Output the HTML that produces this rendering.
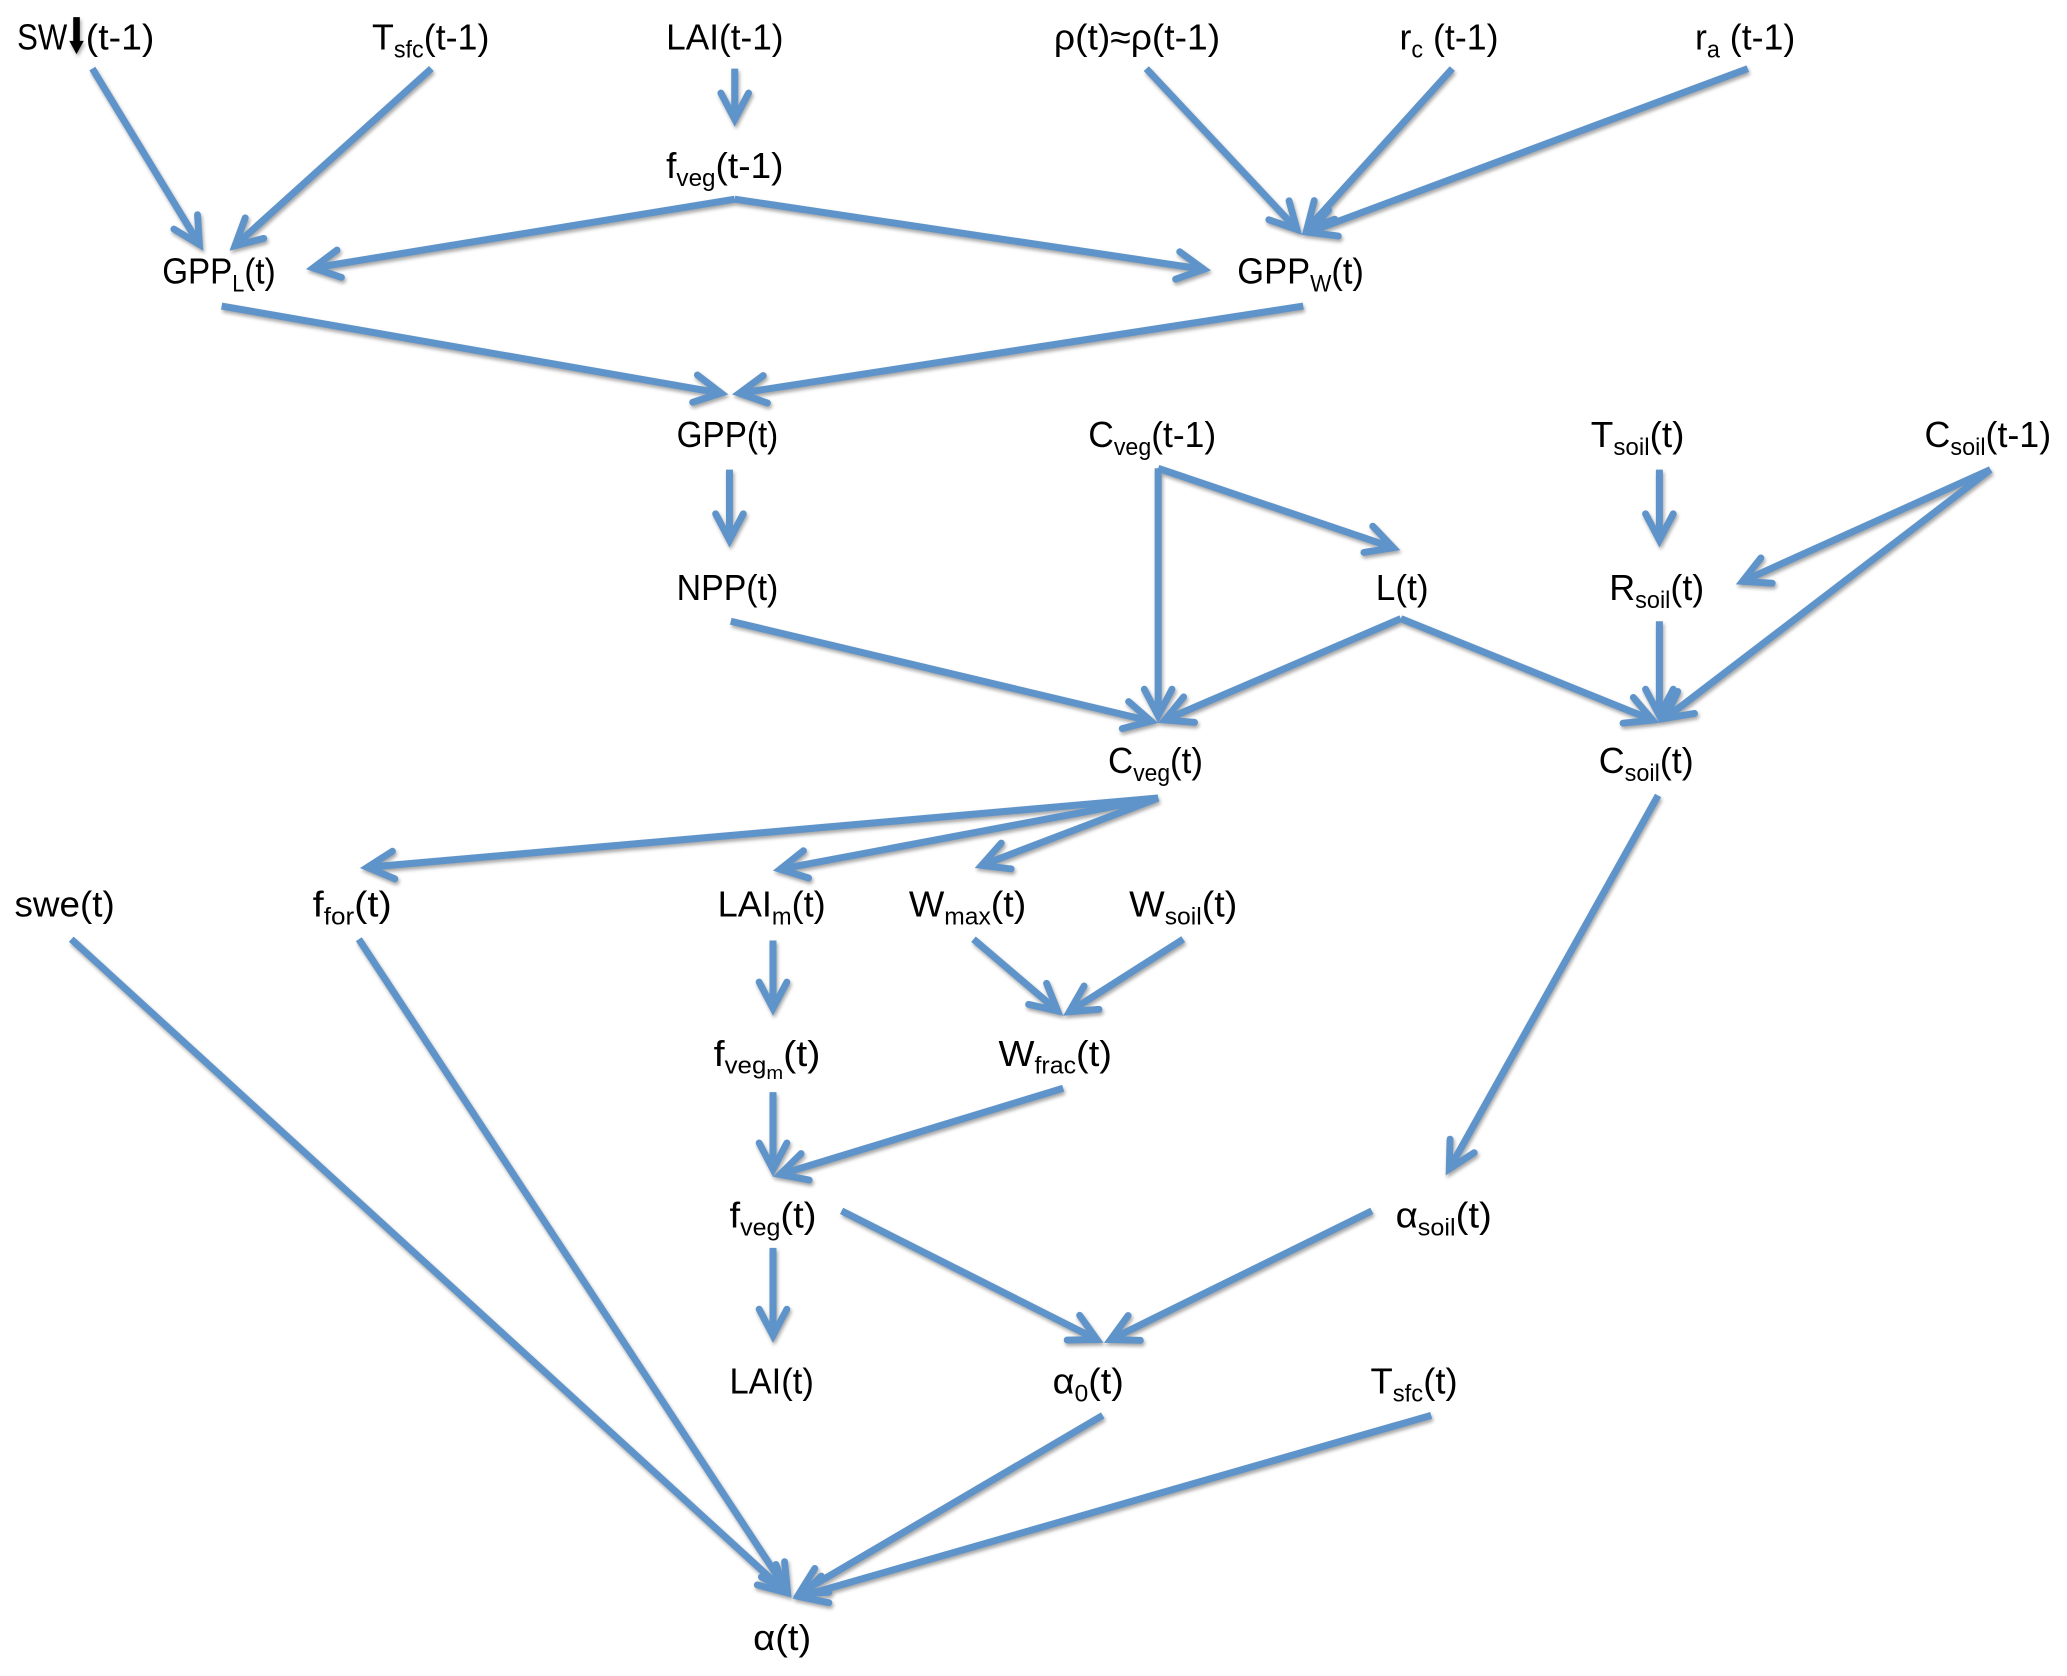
<!DOCTYPE html>
<html>
<head>
<meta charset="utf-8">
<style>
html,body{margin:0;padding:0;background:#fff;}
svg{display:block;}
text{font-family:"Liberation Sans",sans-serif;font-size:27.5px;fill:#000;}
tspan.s{font-size:18px;}
.a line{stroke:#5f94ca;stroke-width:5.3;stroke-dasharray:0 5 4000;marker-start:url(#h);}
.a{filter:drop-shadow(1.5px 2px 1.5px rgba(0,0,0,.35));}
</style>
</head>
<body>
<svg xmlns="http://www.w3.org/2000/svg" width="2067" height="1676" viewBox="0 0 1567 1270.6">
<defs>
<marker id="h" markerUnits="userSpaceOnUse" markerWidth="60" markerHeight="60" refX="40" refY="30" orient="auto-start-reverse" overflow="visible">
<path d="M14.5,19.5 L34.5,30 L14.5,40.5" fill="none" stroke="#5f94ca" stroke-width="5.2" stroke-linecap="round" stroke-linejoin="miter"/>
</marker>
</defs>
<g class="a">
<line x2="70" y2="52" x1="154" y1="190"/>
<line x2="327" y2="52" x1="174" y1="190"/>
<line x2="557" y2="52" x1="557" y1="96"/>
<line x2="557" y2="151" x1="232" y1="204"/>
<line x2="557" y2="151" x1="918" y1="205"/>
<line x2="869" y2="52" x1="987" y1="178"/>
<line x2="1101" y2="52" x1="987" y1="178"/>
<line x2="1325" y2="52" x1="987" y1="178"/>
<line x2="168" y2="232" x1="552" y1="299"/>
<line x2="988" y2="232" x1="555" y1="299"/>
<line x2="553" y2="356" x1="553" y1="415"/>
<line x2="878" y2="355" x1="878" y1="548"/>
<line x2="878" y2="355" x1="1061.5" y1="417"/>
<line x2="1258" y2="356" x1="1258" y1="415"/>
<line x2="1509" y2="356" x1="1316" y1="443"/>
<line x2="1509" y2="356" x1="1258" y1="548"/>
<line x2="554" y2="471" x1="878" y1="548"/>
<line x2="1062" y2="469" x1="878" y1="548"/>
<line x2="1062" y2="469" x1="1258" y1="548"/>
<line x2="1258" y2="471" x1="1258" y1="548"/>
<line x2="878" y2="605" x1="273" y1="658"/>
<line x2="878" y2="605" x1="586" y1="660"/>
<line x2="878" y2="605" x1="739" y1="658"/>
<line x2="1257" y2="603" x1="1096" y1="891"/>
<line x2="738" y2="712" x1="806" y1="770"/>
<line x2="897" y2="712" x1="806" y1="770"/>
<line x2="586" y2="713" x1="586" y1="770"/>
<line x2="54" y2="712" x1="600" y1="1211"/>
<line x2="272" y2="712" x1="600" y1="1211"/>
<line x2="836" y2="1073" x1="601" y1="1211"/>
<line x2="1085" y2="1073" x1="601" y1="1212"/>
<line x2="586" y2="828" x1="586" y1="892"/>
<line x2="806" y2="825" x1="586" y1="892"/>
<line x2="586" y2="946" x1="586" y1="1018"/>
<line x2="638" y2="918" x1="836.5" y1="1018"/>
<line x2="1040" y2="918" x1="837" y1="1018"/>
</g>
<polygon points="55.5,13 60.5,13 60.5,31 63.5,31 58,41 52.5,31 55.5,31" fill="#000" style="filter:drop-shadow(1px 2px 1.5px rgba(0,0,0,.35))"/>
<g>
<text x="13" y="37.5" textLength="38" lengthAdjust="spacingAndGlyphs">SW</text>
<text x="65" y="37.5" textLength="52" lengthAdjust="spacingAndGlyphs">(t-1)</text>
<text x="282" y="37.5" textLength="89" lengthAdjust="spacingAndGlyphs">T<tspan class="s" dy="6">sfc</tspan><tspan dy="-6">(t-1)</tspan></text>
<text x="505" y="37.5" textLength="89" lengthAdjust="spacingAndGlyphs">LAI(t-1)</text>
<text x="799" y="37.5" textLength="126" lengthAdjust="spacingAndGlyphs">ρ(t)≈ρ(t-1)</text>
<text x="1061" y="37.5" textLength="75" lengthAdjust="spacingAndGlyphs">r<tspan class="s" dy="6">c</tspan><tspan dy="-6"> (t-1)</tspan></text>
<text x="1285" y="37.5" textLength="76" lengthAdjust="spacingAndGlyphs">r<tspan class="s" dy="6">a</tspan><tspan dy="-6"> (t-1)</tspan></text>
<text x="505" y="135" textLength="89" lengthAdjust="spacingAndGlyphs">f<tspan class="s" dy="6">veg</tspan><tspan dy="-6">(t-1)</tspan></text>
<text x="123" y="215" textLength="86" lengthAdjust="spacingAndGlyphs">GPP<tspan class="s" dy="6">L</tspan><tspan dy="-6">(t)</tspan></text>
<text x="938" y="215" textLength="96" lengthAdjust="spacingAndGlyphs">GPP<tspan class="s" dy="6">W</tspan><tspan dy="-6">(t)</tspan></text>
<text x="513" y="339" textLength="77" lengthAdjust="spacingAndGlyphs">GPP(t)</text>
<text x="825" y="339" textLength="97" lengthAdjust="spacingAndGlyphs">C<tspan class="s" dy="6">veg</tspan><tspan dy="-6">(t-1)</tspan></text>
<text x="1206" y="339" textLength="71" lengthAdjust="spacingAndGlyphs">T<tspan class="s" dy="6">soil</tspan><tspan dy="-6">(t)</tspan></text>
<text x="1459" y="339" textLength="96" lengthAdjust="spacingAndGlyphs">C<tspan class="s" dy="6">soil</tspan><tspan dy="-6">(t-1)</tspan></text>
<text x="513" y="455" textLength="77" lengthAdjust="spacingAndGlyphs">NPP(t)</text>
<text x="1043" y="455" textLength="40" lengthAdjust="spacingAndGlyphs">L(t)</text>
<text x="1220" y="455" textLength="72" lengthAdjust="spacingAndGlyphs">R<tspan class="s" dy="6">soil</tspan><tspan dy="-6">(t)</tspan></text>
<text x="840" y="586" textLength="72" lengthAdjust="spacingAndGlyphs">C<tspan class="s" dy="6">veg</tspan><tspan dy="-6">(t)</tspan></text>
<text x="1212" y="586" textLength="72" lengthAdjust="spacingAndGlyphs">C<tspan class="s" dy="6">soil</tspan><tspan dy="-6">(t)</tspan></text>
<text x="11" y="695" textLength="76" lengthAdjust="spacingAndGlyphs">swe(t)</text>
<text x="237" y="695" textLength="60" lengthAdjust="spacingAndGlyphs">f<tspan class="s" dy="6">for</tspan><tspan dy="-6">(t)</tspan></text>
<text x="544" y="695" textLength="82" lengthAdjust="spacingAndGlyphs">LAI<tspan class="s" dy="6">m</tspan><tspan dy="-6">(t)</tspan></text>
<text x="689" y="695" textLength="89" lengthAdjust="spacingAndGlyphs">W<tspan class="s" dy="6">max</tspan><tspan dy="-6">(t)</tspan></text>
<text x="856" y="695" textLength="82" lengthAdjust="spacingAndGlyphs">W<tspan class="s" dy="6">soil</tspan><tspan dy="-6">(t)</tspan></text>
<text x="541" y="808" textLength="81" lengthAdjust="spacingAndGlyphs">f<tspan class="s" dy="6">veg</tspan><tspan class="s" dy="4" style="font-size:14px">m</tspan><tspan dy="-10">(t)</tspan></text>
<text x="757" y="808" textLength="86" lengthAdjust="spacingAndGlyphs">W<tspan class="s" dy="6">frac</tspan><tspan dy="-6">(t)</tspan></text>
<text x="553" y="930.5" textLength="66" lengthAdjust="spacingAndGlyphs">f<tspan class="s" dy="6">veg</tspan><tspan dy="-6">(t)</tspan></text>
<text x="1058" y="930.5" textLength="73" lengthAdjust="spacingAndGlyphs">α<tspan class="s" dy="6">soil</tspan><tspan dy="-6">(t)</tspan></text>
<text x="553" y="1056.5" textLength="64" lengthAdjust="spacingAndGlyphs">LAI(t)</text>
<text x="798" y="1056.5" textLength="54" lengthAdjust="spacingAndGlyphs">α<tspan class="s" dy="6">0</tspan><tspan dy="-6">(t)</tspan></text>
<text x="1039" y="1056.5" textLength="66" lengthAdjust="spacingAndGlyphs">T<tspan class="s" dy="6">sfc</tspan><tspan dy="-6">(t)</tspan></text>
<text x="571" y="1251" textLength="44" lengthAdjust="spacingAndGlyphs">α(t)</text>
</g>
</svg>
</body>
</html>
